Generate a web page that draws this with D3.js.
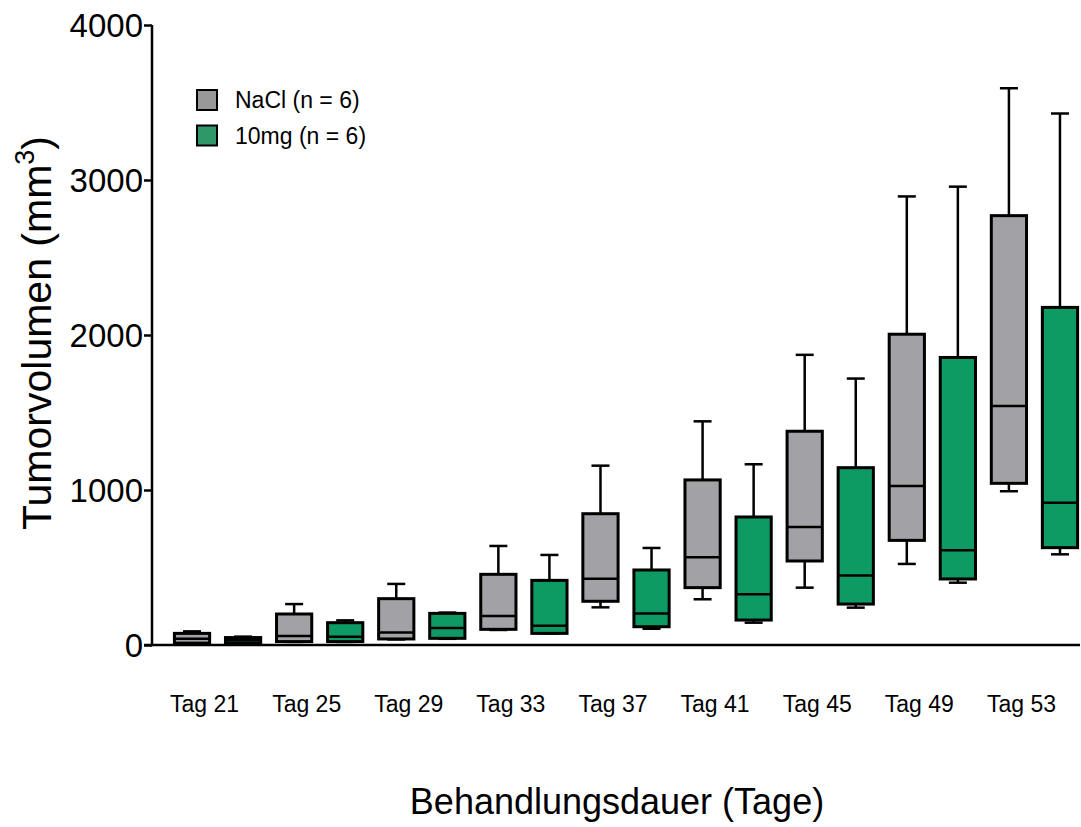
<!DOCTYPE html>
<html>
<head>
<meta charset="utf-8">
<script src="https://cdn.jsdelivr.net/npm/d3@7"></script>
<style>
  html, body { margin: 0; padding: 0; background: #fff; }
  svg { display: block; font-family: "Liberation Sans", Arial, sans-serif; }
</style>
</head>
<body>
<svg id="chart" width="1081" height="827"></svg>
<script>
const days = ["Tag 21", "Tag 25", "Tag 29", "Tag 33", "Tag 37", "Tag 41", "Tag 45", "Tag 49", "Tag 53"];
const groups = ["NaCl (n = 6)", "10mg (n = 6)"];
const yTicks = [0, 1000, 2000, 3000, 4000];

// NaCl
const naclMin = [5, 20, 36, 97, 243, 295, 370, 523, 992];
const naclQ1 = [12, 22, 39, 101, 282, 370, 542, 675, 1043];
const naclMed = [40, 58, 80, 187, 428, 566, 761, 1026, 1542];
const naclQ3 = [75, 200, 299, 456, 847, 1065, 1379, 2005, 2770];
const naclMax = [88, 264, 394, 639, 1157, 1443, 1872, 2894, 3592];

// 10mg
const mgMin = [10, 20, 40, 75, 105, 144, 241, 402, 585];
const mgQ1 = [13, 22, 43, 75, 118, 161, 264, 426, 628];
const mgMed = [30, 54, 110, 125, 204, 327, 448, 612, 917];
const mgQ3 = [48, 144, 204, 417, 484, 826, 1144, 1855, 2178];
const mgMax = [54, 159, 209, 581, 626, 1166, 1719, 2957, 3429];

const colors = ["#a2a1a6", "#0d9a63"];
const legendColors = ["#999999", "#2e9767"];

const svg = d3.select("#chart");

const y = d3.scaleLinear().domain([0, 4000]).range([645, 25]);
const x0 = d3.scaleBand().domain(days).range([166.5, 1085.5]).paddingInner(0).paddingOuter(0);
const x1 = d3.scaleBand().domain(groups).range([0, x0.bandwidth()]).paddingInner(0.31).paddingOuter(0.155);

const boxes = [];
days.forEach((d, i) => {
  boxes.push({day: d, g: groups[0], c: colors[0], min: naclMin[i], q1: naclQ1[i], med: naclMed[i], q3: naclQ3[i], max: naclMax[i]});
  boxes.push({day: d, g: groups[1], c: colors[1], min: mgMin[i], q1: mgQ1[i], med: mgMed[i], q3: mgQ3[i], max: mgMax[i]});
});

const bw = x1.bandwidth();
const capW = 18;

const gBox = svg.append("g");
boxes.forEach(b => {
  const cx = x0(b.day) + x1(b.g) + bw / 2;
  const g = gBox.append("g");
  g.append("line").attr("x1", cx).attr("x2", cx).attr("y1", y(b.max)).attr("y2", y(b.q3))
    .attr("stroke", "#000").attr("stroke-width", 2.5);
  g.append("line").attr("x1", cx).attr("x2", cx).attr("y1", y(b.q1)).attr("y2", y(b.min))
    .attr("stroke", "#000").attr("stroke-width", 2.5);
  g.append("line").attr("x1", cx - capW / 2).attr("x2", cx + capW / 2).attr("y1", y(b.max)).attr("y2", y(b.max))
    .attr("stroke", "#000").attr("stroke-width", 2.5);
  g.append("line").attr("x1", cx - capW / 2).attr("x2", cx + capW / 2).attr("y1", y(b.min)).attr("y2", y(b.min))
    .attr("stroke", "#000").attr("stroke-width", 2.5);
  g.append("rect").attr("x", cx - bw / 2).attr("width", bw)
    .attr("y", y(b.q3)).attr("height", y(b.q1) - y(b.q3))
    .attr("fill", b.c).attr("stroke", "#000").attr("stroke-width", 3);
  g.append("line").attr("x1", cx - bw / 2).attr("x2", cx + bw / 2).attr("y1", y(b.med)).attr("y2", y(b.med))
    .attr("stroke", "#000").attr("stroke-width", 2.5);
});

// y axis
const yAxis = d3.axisLeft(y).tickValues(yTicks).tickSize(8).tickPadding(1).tickFormat(d3.format("d"));
const gy = svg.append("g").attr("transform", "translate(152,0)").call(yAxis);
gy.select(".domain").attr("stroke", "#000").attr("stroke-width", 2.5).attr("d", `M0,${y(4000)}V${y(0)}`);
gy.selectAll(".tick line").attr("stroke", "#000").attr("stroke-width", 2.5);
gy.selectAll(".tick text").attr("font-size", 33).attr("font-family", "Liberation Sans, Arial, sans-serif").attr("fill", "#000").attr("dy", "0.35em");

// x axis line
svg.append("line").attr("x1", 144).attr("x2", 1080).attr("y1", y(0)).attr("y2", y(0))
  .attr("stroke", "#000").attr("stroke-width", 2.5);

// x tick labels
svg.append("g").selectAll("text").data(days).join("text")
  .attr("x", d => x0(d) + x0.bandwidth() / 2 - 13)
  .attr("y", 712)
  .attr("text-anchor", "middle")
  .attr("font-size", 23)
  .attr("fill", "#000")
  .text(d => d);

// axis titles
svg.append("text").attr("x", 617).attr("y", 814).attr("text-anchor", "middle")
  .attr("font-size", 36).attr("fill", "#000").text("Behandlungsdauer (Tage)");

const yl = svg.append("text").attr("transform", "translate(51,333) rotate(-90)").attr("text-anchor", "middle")
  .attr("font-size", 41).attr("fill", "#000");
yl.append("tspan").text("Tumorvolumen (mm");
yl.append("tspan").attr("font-size", 27).attr("dy", -17).text("3");
yl.append("tspan").attr("dy", 17).text(")");

// legend
const lg = svg.append("g");
groups.forEach((gname, i) => {
  const yy = 90 + i * 35.5;
  lg.append("rect").attr("x", 197).attr("y", yy).attr("width", 20).attr("height", 20)
    .attr("fill", legendColors[i]).attr("stroke", "#000").attr("stroke-width", 2);
  lg.append("text").attr("x", 235).attr("y", yy + 18).attr("font-size", 23).attr("fill", "#000").text(gname);
});
</script>
</body>
</html>
